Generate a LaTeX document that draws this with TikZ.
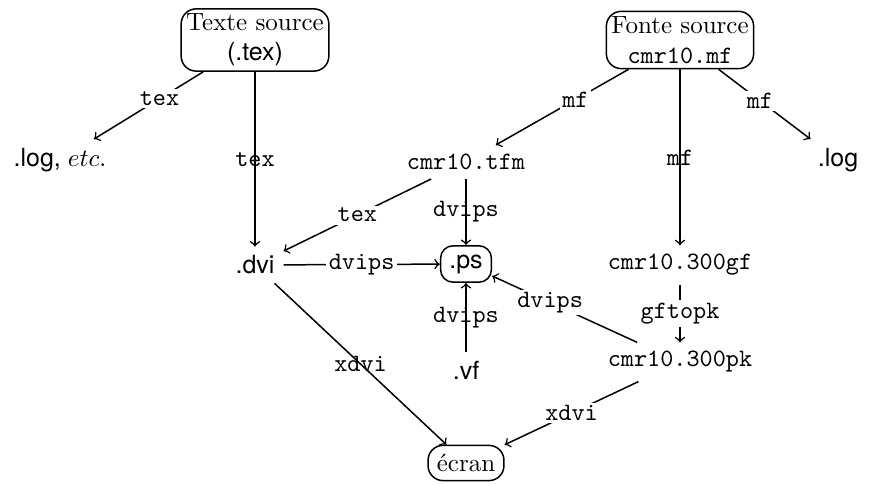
\documentclass[tikz,border=0pt]{standalone}
\usepackage{fontspec}
\setsansfont{TeX Gyre Heros}
\usepackage{tikz}

\begin{document}
\begin{tikzpicture}[x=0.4pt,y=-0.4pt,line width=0.6pt,
	boite/.style={draw,rounded corners=6pt,align=center,inner sep=2pt},
	fich/.style={font=\sffamily},
	fichtt/.style={font=\ttfamily},
	prog/.style={font=\ttfamily,inner sep=1pt},
	etiq/.style={font=\ttfamily,inner sep=1pt,fill=white}]
	\useasboundingbox (0,0) rectangle (875,484);
	\node[boite] (src) at (255,40) {Texte source\\\textsf{(.tex)}};
	\node[boite] (fnt) at (680,40) {Fonte source\\\texttt{cmr10.mf}};
	\node[fich] (logtex) at (60,160) {.log, $etc.$};
	\node[fichtt] (tfm) at (466,162) {cmr10.tfm};
	\node[fich] (loggf) at (838,160) {.log};
	\node[fich] (dvi) at (255,265) {.dvi};
	\node[fich,draw,rounded corners=5pt,inner sep=3.5pt] (ps) at (466,264) {.ps};
	\node[fichtt] (gf) at (680,265) {cmr10.300gf};
	\node[fich] (vf) at (466,370) {.vf};
	\node[fichtt] (pk) at (680,362) {cmr10.300pk};
	\node[draw,rounded corners=6pt,inner sep=3.5pt] (ecran) at (466,463) {écran};

	\draw[->] (src) -- node[etiq,pos=.4] {tex} (logtex);
	\draw[->] (src) -- node[prog] {tex} (dvi);
	\draw[->] (fnt) -- node[etiq,pos=.4] {mf} (tfm);
	\draw[->] (fnt) -- node[prog] {mf} (gf);
	\draw[->] (fnt) -- node[etiq,pos=.45] {mf} (loggf);
	\draw[->] (tfm) -- node[etiq] {tex} (dvi);
	\draw[->] (tfm) -- node[prog] {dvips} (ps);
	\draw[->] (dvi) -- node[etiq] {dvips} (ps);
	\draw[->] (vf) -- node[prog] {dvips} (ps);
	\draw[->] (pk) -- node[etiq,pos=.6] {dvips} (ps);
	\draw[->] (gf) -- node[etiq] {gftopk} (pk);
	\draw[->] (dvi) -- node[prog] {xdvi} (ecran);
	\draw[->] (pk) -- node[etiq] {xdvi} (ecran);
\end{tikzpicture}
\end{document}
